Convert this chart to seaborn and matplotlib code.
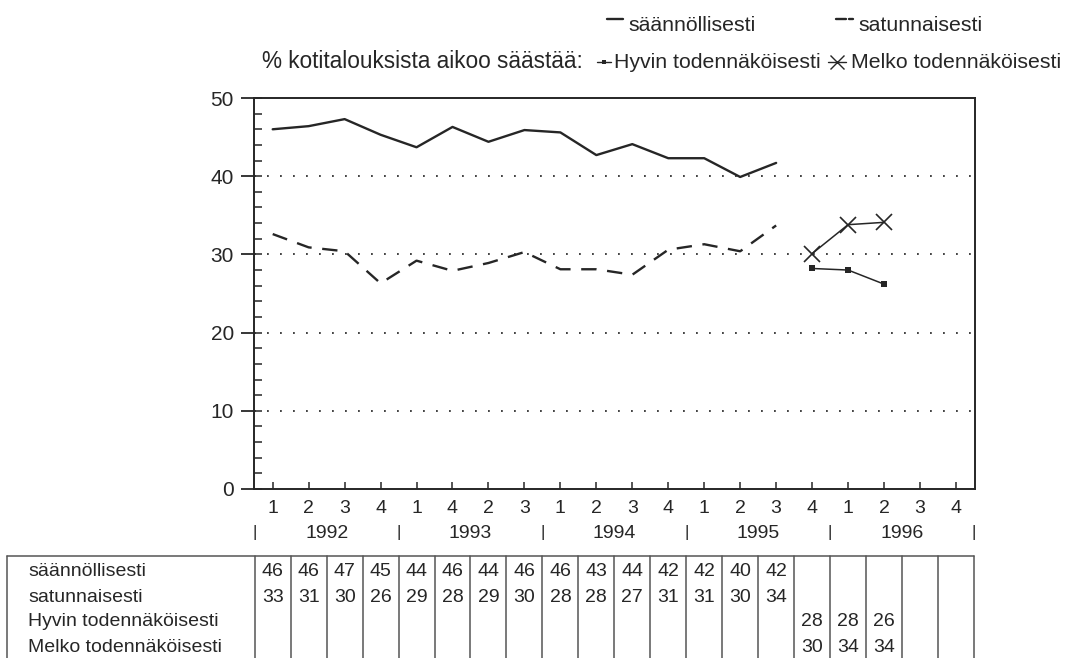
import matplotlib
matplotlib.use("Agg")
import matplotlib.pyplot as plt
import matplotlib.transforms as mtransforms
from matplotlib.lines import Line2D
from matplotlib.ticker import FixedLocator
import numpy as np
import pandas as pd
import seaborn as sns

# ---- data -------------------------------------------------------------
periods = list(range(1, 21))
quarter_labels = ["1", "2", "3", "4", "1", "4", "2", "3", "1", "2",
                  "3", "4", "1", "2", "3", "4", "1", "2", "3", "4"]
years = ["1992", "1993", "1994", "1995", "1996"]

series_names = ["säännöllisesti", "satunnaisesti",
                "Hyvin todennäköisesti", "Melko todennäköisesti"]

regular_periods = list(range(1, 16))
regular = [46.0, 46.4, 47.3, 45.3, 43.7, 46.3, 44.4, 45.9, 45.6, 42.7,
           44.1, 42.3, 42.3, 39.9, 41.7]
occasional = [32.6, 30.9, 30.4, 26.3, 29.2, 27.9, 28.9, 30.3, 28.1, 28.1,
              27.4, 30.6, 31.3, 30.4, 33.7]

intent_periods = [16, 17, 18]
very_likely = [28.2, 28.0, 26.2]
fairly_likely = [30.1, 33.8, 34.1]

# ---- style ------------------------------------------------------------
sns.set_theme(style="white")
plt.rcParams["font.family"] = ["Liberation Sans", "DejaVu Sans"]
ink = "#262626"
rule = "#555555"

W, H = 1078, 658
fig = plt.figure(figsize=(W / 100, H / 100), dpi=100)
fig.patch.set_facecolor("white")

# main plotting area
ax = fig.add_axes([254 / W, 1 - 489 / H, (975 - 254) / W, (489 - 98) / H])
ax.set_facecolor("white")

df_reg = pd.DataFrame({"period": regular_periods, "säännöllisesti": regular,
                       "satunnaisesti": occasional})
df_int = pd.DataFrame({"period": intent_periods,
                       "Hyvin todennäköisesti": very_likely,
                       "Melko todennäköisesti": fairly_likely})

sns.lineplot(data=df_reg, x="period", y="säännöllisesti", ax=ax,
             color=ink, lw=1.7, sort=False)
sns.lineplot(data=df_reg, x="period", y="satunnaisesti", ax=ax,
             color=ink, lw=1.7, sort=False, linestyle=(0, (6.5, 4.5)))
sns.lineplot(data=df_int, x="period", y="Hyvin todennäköisesti", ax=ax,
             color=ink, lw=1.1, sort=False, marker="s", markersize=4.5,
             markeredgewidth=0, markerfacecolor=ink)
sns.lineplot(data=df_int, x="period", y="Melko todennäköisesti", ax=ax,
             color=ink, lw=1.1, sort=False, marker="x", markersize=12,
             markeredgewidth=1.2, markeredgecolor=ink)

ax.set_xlim(0.48, 20.53)
ax.set_ylim(0, 50)
ax.set_xlabel("")
ax.set_ylabel("")

for sp in ax.spines.values():
    sp.set_visible(True)
    sp.set_color(ink)
    sp.set_linewidth(1.4)

# y axis: outward major ticks, inward minor ticks every 2 units
ax.set_yticks([0, 10, 20, 30, 40, 50])
ax.yaxis.set_minor_locator(FixedLocator(np.arange(0, 51, 2)))
ax.yaxis.remove_overlapping_locs = False
ax.tick_params(axis="y", which="major", direction="out", length=9.5,
               width=1.3, color=ink, labelsize=15, labelcolor=ink, pad=5,
               left=True)
ax.tick_params(axis="y", which="minor", direction="in", length=6,
               width=1.1, color=ink, left=True)

# x axis: quarter ticks pointing inward
ax.set_xticks(periods)
ax.set_xticklabels(quarter_labels)
ax.tick_params(axis="x", which="major", direction="in", length=5,
               width=1.1, color=ink, labelsize=14, labelcolor=ink, pad=8,
               bottom=True)

# dotted reference lines
for yv in [10, 20, 30, 40]:
    ax.axhline(yv, color="#333333", lw=1.3, linestyle=(0, (1, 6.2)),
               zorder=0)

# year row below the quarter labels
trans = mtransforms.blended_transform_factory(ax.transData, ax.transAxes)
year_y = (489 - 533) / (489 - 98)
for k, yr in enumerate(years):
    ax.text(2.5 + 4 * k, year_y, yr, transform=trans, ha="center",
            va="center", fontsize=14, color=ink)
for k in range(len(years) + 1):
    ax.text(0.5 + 4 * k, year_y, "|", transform=trans, ha="center",
            va="center", fontsize=12, color=ink)

# ---- data table -------------------------------------------------------
tab = fig.add_axes([254 / W, 0, (975 - 254) / W, (658 - 556) / H])
tab.set_xlim(ax.get_xlim())
tab.set_ylim(102, 0)
tab.axis("off")

label_left = -6.4
row_y = [16, 41, 66, 91]
tab.plot([label_left, 20.5], [0, 0], color=rule, lw=1.1, clip_on=False)
for xv in [label_left] + [p + 0.5 for p in range(0, 21)]:
    tab.plot([xv, xv], [0, 102], color=rule, lw=1.1, clip_on=False)

table_rows = [
    (series_names[0], regular_periods, regular),
    (series_names[1], regular_periods, occasional),
    (series_names[2], intent_periods, very_likely),
    (series_names[3], intent_periods, fairly_likely),
]
for ry, (name, xs, vals) in zip(row_y, table_rows):
    tab.text(label_left + 0.6, ry, name, ha="left", va="center",
             fontsize=14, color=ink, clip_on=False)
    for xv, v in zip(xs, vals):
        tab.text(xv, ry, f"{round(v)}", ha="center", va="center",
                 fontsize=14, color=ink, clip_on=False)

# ---- key at the top ---------------------------------------------------
def fx(px):
    return px / W


def fy(py):
    return 1 - py / H


key_size = 15.3
fig.add_artist(Line2D([fx(607), fx(623)], [fy(19), fy(19)], color=ink,
                      lw=1.7, transform=fig.transFigure))
fig.text(fx(628), fy(31), series_names[0], fontsize=key_size,
         color=ink, va="baseline")
fig.add_artist(Line2D([fx(836), fx(846)], [fy(19), fy(19)], color=ink,
                      lw=1.7, transform=fig.transFigure))
fig.add_artist(Line2D([fx(849), fx(853)], [fy(19), fy(19)], color=ink,
                      lw=1.7, transform=fig.transFigure))
fig.text(fx(858), fy(31), series_names[1], fontsize=key_size,
         color=ink, va="baseline")

fig.text(fx(262), fy(68), "% kotitalouksista aikoo säästää:", fontsize=16.3,
         color=ink, va="baseline")
fig.add_artist(Line2D([fx(597), fx(611)], [fy(62), fy(62)], color=ink,
                      lw=1.0, transform=fig.transFigure))
fig.add_artist(Line2D([fx(604)], [fy(62)], color=ink, marker="s",
                      markersize=3.5, markeredgewidth=0,
                      transform=fig.transFigure))
fig.text(fx(614), fy(68), series_names[2], fontsize=key_size,
         color=ink, va="baseline")
fig.add_artist(Line2D([fx(828), fx(846)], [fy(62), fy(62)], color=ink,
                      lw=1.0, transform=fig.transFigure))
fig.add_artist(Line2D([fx(837)], [fy(62)], color=ink, marker="x",
                      markersize=10, markeredgewidth=1.0,
                      transform=fig.transFigure))
fig.text(fx(851), fy(68), series_names[3], fontsize=key_size,
         color=ink, va="baseline")

fig.savefig("out.png", dpi=100, facecolor="white")
